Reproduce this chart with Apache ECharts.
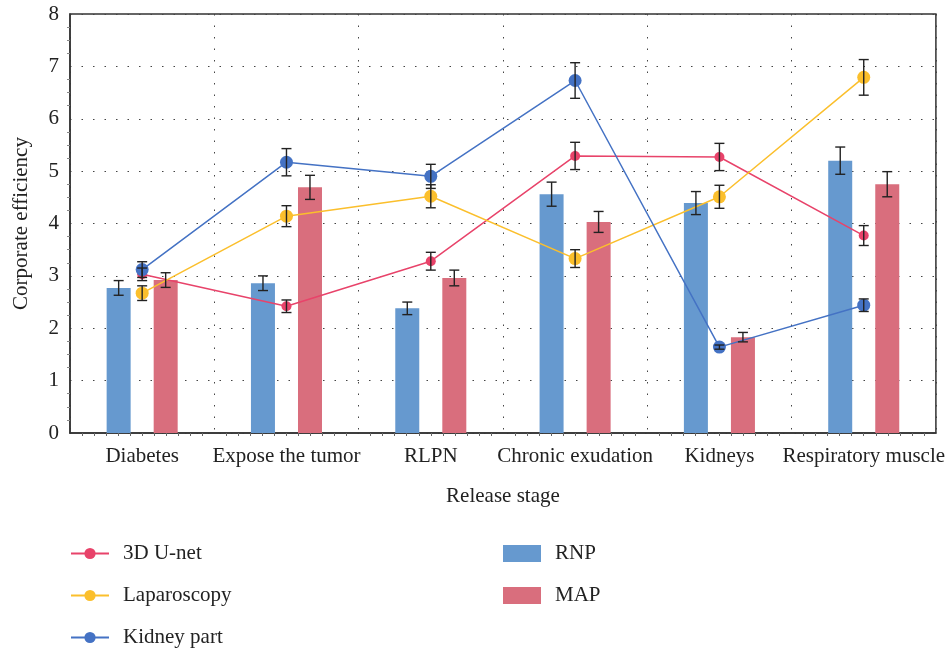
<!DOCTYPE html>
<html>
<head>
<meta charset="utf-8">
<script src="https://cdn.jsdelivr.net/npm/echarts@6/dist/echarts.min.js"></script>
<style>
	html, body { margin: 0; padding: 0; background: #fff; }
	#chart { width: 948px; height: 652px; }
</style>
</head>
<body>
<div id="chart"></div>
<script>
// categories on the x axis
var categories = ['Diabetes', 'Expose the tumor', 'RLPN', 'Chronic exudation', 'Kidneys', 'Respiratory muscle']

// line series and their error sizes
var uNetData = [3.03, 2.42, 3.28, 5.29, 5.27, 3.77]
var uNetErr = [0.12, 0.12, 0.17, 0.26, 0.26, 0.19]
var lapData = [2.67, 4.14, 4.52, 3.33, 4.51, 6.79]
var lapErr = [0.14, 0.20, 0.22, 0.17, 0.22, 0.34]
var kidData = [3.12, 5.17, 4.90, 6.73, 1.64, 2.44]
var kidErr = [0.15, 0.26, 0.23, 0.34, 0.04, 0.12]

// bar series and their error sizes
var rnpData = [2.77, 2.86, 2.38, 4.56, 4.39, 5.20]
var rnpErr = [0.14, 0.14, 0.12, 0.23, 0.22, 0.26]
var mapData = [2.92, 4.69, 2.96, 4.03, 1.83, 4.75]
var mapErr = [0.14, 0.23, 0.15, 0.20, 0.09, 0.24]

var yTicks = [0, 1, 2, 3, 4, 5, 6, 7, 8]

var font = '"Liberation Serif", "DejaVu Serif", serif'
var fs = 21
var dotted = { color: '#444', width: 1, type: [1.5, 10] }

function errItems(vals, errs) {
	return vals.map(function (v, i) {
		return [i, v - errs[i], v + errs[i]]
	})
}

// error bar drawn at the category, shifted by px pixels
function errRender(px) {
	return function (params, api) {
		var lo = api.coord([api.value(0), api.value(1)])
		var hi = api.coord([api.value(0), api.value(2)])
		var x = lo[0] + px
		var cap = 5
		var style = { stroke: '#222', lineWidth: 1.4 }
		return {
			type: 'group',
			children: [
				{ type: 'line', shape: { x1: x, y1: lo[1], x2: x, y2: hi[1] }, style: style },
				{ type: 'line', shape: { x1: x - cap, y1: lo[1], x2: x + cap, y2: lo[1] }, style: style },
				{ type: 'line', shape: { x1: x - cap, y1: hi[1], x2: x + cap, y2: hi[1] }, style: style }
			]
		}
	}
}

function errSeries(vals, errs, px) {
	return {
		type: 'custom',
		renderItem: errRender(px),
		data: errItems(vals, errs),
		z: 10,
		silent: true,
		encode: { x: 0, y: [1, 2] }
	}
}

var chart = echarts.init(document.getElementById('chart'))

chart.setOption({
	animation: false,
	textStyle: { fontFamily: font },
	grid: {
		left: 70,
		right: 11,
		top: 14,
		bottom: 219,
		show: true,
		borderColor: '#333',
		borderWidth: 1.5
	},
	legend: [
		{
			data: ['3D U-net', 'Laparoscopy', 'Kidney part'],
			orient: 'vertical',
			left: 70,
			top: 543,
			padding: 0,
			itemWidth: 38,
			itemHeight: 14,
			itemGap: 21,
			textStyle: { fontFamily: font, fontSize: fs, color: '#222', padding: [0, 0, 0, 9] }
		},
		{
			data: [
				{ name: 'RNP', icon: 'rect' },
				{ name: 'MAP', icon: 'rect' }
			],
			orient: 'vertical',
			left: 503,
			top: 543,
			padding: 0,
			itemWidth: 38,
			itemHeight: 17,
			itemGap: 21,
			textStyle: { fontFamily: font, fontSize: fs, color: '#222', padding: [0, 0, 0, 9] }
		}
	],
	xAxis: [
		{
			type: 'category',
			data: categories,
			boundaryGap: true,
			name: 'Release stage',
			nameLocation: 'middle',
			nameGap: 53,
			nameTextStyle: { fontFamily: font, fontSize: fs, color: '#222' },
			axisLine: { lineStyle: { color: '#333', width: 1.5 } },
			axisTick: { show: false },
			axisLabel: { fontFamily: font, fontSize: fs, color: '#222', margin: 13, interval: 0 },
			splitLine: { show: true, lineStyle: dotted }
		},
		{
			type: 'value',
			min: 0,
			max: 6,
			interval: 1,
			position: 'bottom',
			axisLine: { show: false },
			axisLabel: { show: false },
			axisTick: { show: false },
			splitLine: { show: false },
			minorTick: { show: true, splitNumber: 12, length: 3, lineStyle: { color: '#666' } }
		}
	],
	yAxis: {
		type: 'value',
		min: yTicks[0],
		max: yTicks[yTicks.length - 1],
		interval: 1,
		name: 'Corporate efficiency',
		nameLocation: 'middle',
		nameGap: 38,
		nameTextStyle: { fontFamily: font, fontSize: fs, color: '#222' },
		axisLine: { show: true, lineStyle: { color: '#333', width: 1.5 } },
		axisTick: { show: false },
		minorTick: { show: true, splitNumber: 4, length: 3, lineStyle: { color: '#888' } },
		axisLabel: { fontFamily: font, fontSize: fs, color: '#222', margin: 11 },
		splitLine: { show: true, lineStyle: dotted }
	},
	series: [
		{
			name: 'RNP',
			type: 'bar',
			data: rnpData,
			barWidth: 24,
			barGap: '96%',
			itemStyle: { color: '#6699CF' }
		},
		{
			name: 'MAP',
			type: 'bar',
			data: mapData,
			barWidth: 24,
			itemStyle: { color: '#D96E7D' }
		},
		{
			name: '3D U-net',
			type: 'line',
			data: uNetData,
			symbol: 'circle',
			symbolSize: 10,
			z: 5,
			lineStyle: { color: '#E8436A', width: 1.5 },
			itemStyle: { color: '#E8436A' }
		},
		{
			name: 'Laparoscopy',
			type: 'line',
			data: lapData,
			symbol: 'circle',
			symbolSize: 13,
			z: 5,
			lineStyle: { color: '#FBBF2C', width: 1.5 },
			itemStyle: { color: '#FBBF2C' }
		},
		{
			name: 'Kidney part',
			type: 'line',
			data: kidData,
			symbol: 'circle',
			symbolSize: 13,
			z: 5,
			lineStyle: { color: '#4472C4', width: 1.5 },
			itemStyle: { color: '#4472C4' }
		},
		errSeries(rnpData, rnpErr, -23.5),
		errSeries(mapData, mapErr, 23.5),
		errSeries(uNetData, uNetErr, 0),
		errSeries(lapData, lapErr, 0),
		errSeries(kidData, kidErr, 0)
	]
})
</script>
</body>
</html>
